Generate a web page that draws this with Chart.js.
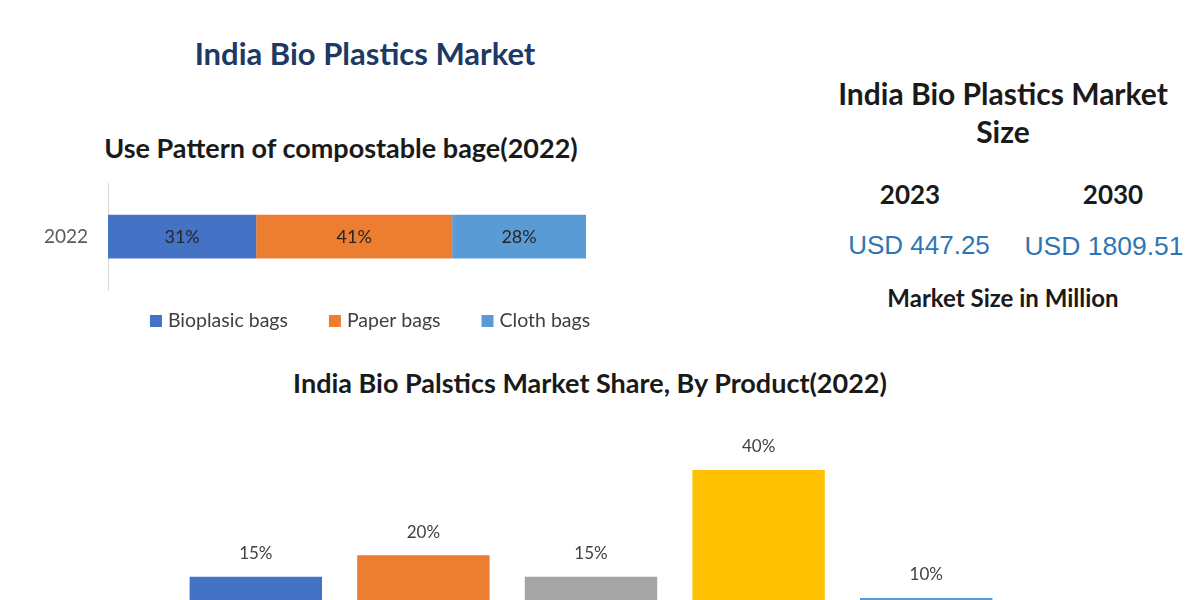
<!DOCTYPE html>
<html>
<head>
<meta charset="utf-8">
<title>India Bio Plastics Market</title>
<script src="https://cdn.jsdelivr.net/npm/chart.js@4.4.0/dist/chart.umd.min.js"></script>
<style>
  html, body { margin: 0; padding: 0; width: 1200px; height: 600px; overflow: hidden; background: #fff; }
  body { position: relative; font-family: Lato, "Open Sans", sans-serif; }
  .t { position: absolute; white-space: nowrap; transform: translate(-50%, -50%); font-weight: bold; color: #1a1a1a; }
  .usd { font-weight: normal; color: #2e75b6; font-family: 'Liberation Sans', Arial, sans-serif; }
  canvas { position: absolute; }
</style>
</head>
<body>
<div class="t" style="left:365px; top:53px; font-size:31px; color:#203864;">India Bio Plastics Market</div>
<div class="t" style="left:341px; top:147px; font-size:27px;">Use Pattern of compostable bage(2022)</div>

<div class="t" style="left:1003px; top:93px; font-size:30px;">India Bio Plastics Market</div>
<div class="t" style="left:1003px; top:131px; font-size:30px;">Size</div>
<div class="t" style="left:910px; top:194px; font-size:26px;">2023</div>
<div class="t" style="left:1113px; top:194px; font-size:26px;">2030</div>
<div class="t usd" style="left:919px; top:245px; font-size:26px;">USD 447.25</div>
<div class="t usd" style="left:1104px; top:246px; font-size:26.5px;">USD 1809.51</div>
<div class="t" style="left:1003px; top:297px; font-size:24px;">Market Size in Million</div>

<div class="t" style="left:590px; top:382px; font-size:27px;">India Bio Palstics Market Share, By Product(2022)</div>

<canvas id="bagChart" width="620" height="190" style="left:0; top:160px;"></canvas>
<canvas id="productChart" width="1200" height="300" style="left:0; top:400px;"></canvas>

<script>
// use pattern of compostable bags, 2022
const bagYears = ['2022'];
const bagTypes = ['Bioplasic bags', 'Paper bags', 'Cloth bags'];
const bagShares = [31, 41, 28];
const bagColors = ['#4472c4', '#ed7d31', '#5b9bd5'];

// market share by product, 2022 (category names sit below the visible crop)
const products = ['Starch Based', 'PLA', 'PHA', 'Bio-PE', 'Others'];
const productShares = [15, 20, 15, 40, 10];
const productColors = ['#4472c4', '#ed7d31', '#a5a5a5', '#ffc000', '#5b9bd5'];

// writes the % value on each bar
const valueLabels = {
  id: 'valueLabels',
  afterDatasetsDraw(chart, args, opts) {
    const ctx = chart.ctx;
    ctx.save();
    ctx.font = opts.font;
    ctx.fillStyle = opts.color;
    ctx.textAlign = 'center';
    ctx.textBaseline = 'middle';
    chart.data.datasets.forEach((ds, i) => {
      chart.getDatasetMeta(i).data.forEach((bar, j) => {
        const txt = ds.data[j] + '%';
        if (opts.inside) {
          ctx.fillText(txt, (bar.x + bar.base) / 2, bar.y);
        } else {
          ctx.fillText(txt, bar.x, bar.y - opts.offset);
        }
      });
    });
    ctx.restore();
  }
};

// legend row under the bag chart
const bottomLegend = {
  id: 'bottomLegend',
  afterDraw(chart, args, opts) {
    const ctx = chart.ctx;
    ctx.save();
    ctx.font = opts.font;
    ctx.textBaseline = 'middle';
    ctx.textAlign = 'left';
    const items = chart.data.datasets.map(ds => ({
      text: ds.label,
      color: ds.backgroundColor,
      w: opts.box + opts.textGap + ctx.measureText(ds.label).width
    }));
    const total = items.reduce((s, it) => s + it.w, 0) + opts.gap * (items.length - 1);
    let x = opts.centerX - total / 2;
    const y = chart.chartArea.bottom + opts.offsetY;
    items.forEach(it => {
      ctx.fillStyle = it.color;
      ctx.fillRect(x, y - opts.box / 2, opts.box, opts.box);
      ctx.fillStyle = opts.color;
      ctx.fillText(it.text, x + opts.box + opts.textGap, y);
      x += it.w + opts.gap;
    });
    ctx.restore();
  }
};

new Chart(document.getElementById('bagChart').getContext('2d'), {
  type: 'bar',
  data: {
    labels: bagYears,
    datasets: bagTypes.map((name, i) => ({
      label: name,
      data: [bagShares[i]],
      backgroundColor: bagColors[i],
      borderWidth: 0,
      barPercentage: 0.41,
      categoryPercentage: 1
    }))
  },
  options: {
    indexAxis: 'y',
    responsive: false,
    animation: false,
    layout: { padding: { left: 0, right: 34, top: 20, bottom: 60 } },
    scales: {
      x: { stacked: true, min: 0, max: 100, display: false },
      y: {
        stacked: true,
        grid: { display: false },
        border: { color: '#d9d9d9', width: 1 },
        ticks: { color: '#595959', font: { family: 'Lato', size: 19 }, padding: 12 },
        afterFit(scale) { scale.width = 108; }
      }
    },
    plugins: {
      legend: { display: false },
      tooltip: { enabled: false },
      valueLabels: { inside: true, font: '18px Lato', color: '#262626' },
      bottomLegend: { font: '19.5px Lato', color: '#404040', box: 12, textGap: 6, gap: 41, centerX: 370, offsetY: 31 }
    }
  },
  plugins: [valueLabels, bottomLegend]
});

new Chart(document.getElementById('productChart').getContext('2d'), {
  type: 'bar',
  data: {
    labels: products,
    datasets: [{
      label: 'Market Share',
      data: productShares,
      backgroundColor: productColors,
      borderWidth: 0,
      barPercentage: 1,
      categoryPercentage: 0.79
    }]
  },
  options: {
    responsive: false,
    animation: false,
    layout: { padding: { left: 172, right: 190, top: 48.6, bottom: 59.3 } },
    scales: {
      x: { display: false },
      y: { display: false, min: 0, max: 45 }
    },
    plugins: {
      legend: { display: false },
      tooltip: { enabled: false },
      valueLabels: { inside: false, offset: 23, font: '17px Lato', color: '#404040' }
    }
  },
  plugins: [valueLabels]
});
</script>
</body>
</html>
